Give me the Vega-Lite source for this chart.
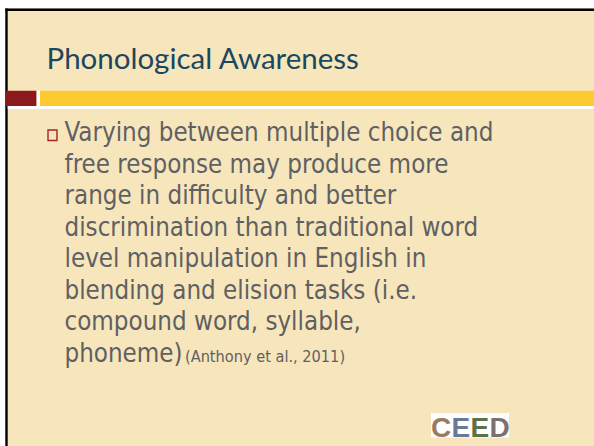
{
  "$schema": "https://vega.github.io/schema/vega-lite/v6.json",
  "width": 594,
  "height": 446,
  "autosize": {"type": "fit", "contains": "padding"},
  "padding": 0,
  "background": "#ffffff",
  "config": {"view": {"stroke": null}},
  "datasets": {
    "panels": [
      {"part": "slide", "x": 5.3, "x2": 594, "y": 8, "y2": 446}
    ],
    "borders": [
      {"part": "top", "x": 5.3, "x2": 594, "y": 8.5, "y2": 11},
      {"part": "left", "x": 5.3, "x2": 7.7, "y": 8.5, "y2": 446}
    ],
    "gaps": [
      {"part": "under bars", "x": 7.7, "x2": 594, "y": 106, "y2": 109},
      {"part": "between bars", "x": 36.4, "x2": 40, "y": 90.7, "y2": 106},
      {"part": "logo ground", "x": 431, "x2": 509, "y": 413, "y2": 437.5}
    ],
    "maroon": [{"part": "block", "x": 5.3, "x2": 36.4, "y": 90.7, "y2": 106}],
    "gold": [{"part": "bar", "x": 40, "x2": 594, "y": 90.7, "y2": 106}],
    "bullet": [{"part": "bullet", "x": 48, "x2": 57, "y": 130, "y2": 140.5}],
    "title": [{"x": 46.5, "y": 69, "text": "Phonological Awareness"}],
    "body": [
      {"x": 64.5, "y": 141, "text": "Varying between multiple choice and"},
      {"x": 64.5, "y": 172.5, "text": "free response may produce more"},
      {"x": 64.5, "y": 204, "text": "range in difficulty and better"},
      {"x": 64.5, "y": 235.5, "text": "discrimination than traditional word"},
      {"x": 64.5, "y": 267, "text": "level manipulation in English in"},
      {"x": 64.5, "y": 298.5, "text": "blending and elision tasks (i.e."},
      {"x": 64.5, "y": 330, "text": "compound word, syllable,"},
      {"x": 64.5, "y": 361.5, "text": "phoneme)"}
    ],
    "cite": [{"x": 185, "y": 362, "text": "(Anthony et al., 2011)"}],
    "logo": [
      {"x": 431, "y": 437, "letter": "C", "k": "1"},
      {"x": 451.5, "y": 437, "letter": "E", "k": "2"},
      {"x": 470.5, "y": 437, "letter": "E", "k": "3"},
      {"x": 489.5, "y": 437, "letter": "D", "k": "4"}
    ]
  },
  "layer": [
    {
      "data": {"name": "panels"},
      "mark": {"type": "rect", "color": "#F7E6BB"},
      "encoding": {
        "x": {"field": "x", "type": "quantitative", "scale": {"domain": [0, 594], "nice": false, "zero": false}, "axis": null},
        "x2": {"field": "x2"},
        "y": {"field": "y", "type": "quantitative", "scale": {"domain": [0, 446], "nice": false, "zero": false, "reverse": true}, "axis": null},
        "y2": {"field": "y2"}
      }
    },
    {
      "data": {"name": "borders"},
      "mark": {"type": "rect", "color": "#000000"},
      "encoding": {
        "x": {"field": "x", "type": "quantitative"},
        "x2": {"field": "x2"},
        "y": {"field": "y", "type": "quantitative"},
        "y2": {"field": "y2"}
      }
    },
    {
      "data": {"name": "gaps"},
      "mark": {"type": "rect", "color": "#FFFFFF"},
      "encoding": {
        "x": {"field": "x", "type": "quantitative"},
        "x2": {"field": "x2"},
        "y": {"field": "y", "type": "quantitative"},
        "y2": {"field": "y2"}
      }
    },
    {
      "data": {"name": "maroon"},
      "mark": {"type": "rect", "color": "#8B1A1C"},
      "encoding": {
        "x": {"field": "x", "type": "quantitative"},
        "x2": {"field": "x2"},
        "y": {"field": "y", "type": "quantitative"},
        "y2": {"field": "y2"}
      }
    },
    {
      "data": {"name": "gold"},
      "mark": {"type": "rect", "color": "#FDCB31"},
      "encoding": {
        "x": {"field": "x", "type": "quantitative"},
        "x2": {"field": "x2"},
        "y": {"field": "y", "type": "quantitative"},
        "y2": {"field": "y2"}
      }
    },
    {
      "data": {"name": "bullet"},
      "mark": {"type": "rect", "fill": "#F7E6BB", "stroke": "#A0262A", "strokeWidth": 1.4},
      "encoding": {
        "x": {"field": "x", "type": "quantitative"},
        "x2": {"field": "x2"},
        "y": {"field": "y", "type": "quantitative"},
        "y2": {"field": "y2"}
      }
    },
    {
      "data": {"name": "title"},
      "mark": {"type": "text", "font": "Lato", "fontSize": 29.5, "color": "#1B4760", "align": "left", "baseline": "alphabetic"},
      "encoding": {
        "x": {"field": "x", "type": "quantitative"},
        "y": {"field": "y", "type": "quantitative"},
        "text": {"field": "text"}
      }
    },
    {
      "data": {"name": "body"},
      "mark": {"type": "text", "font": "DejaVu Sans Condensed", "fontSize": 25.7, "color": "#5F6064", "align": "left", "baseline": "alphabetic"},
      "encoding": {
        "x": {"field": "x", "type": "quantitative"},
        "y": {"field": "y", "type": "quantitative"},
        "text": {"field": "text"}
      }
    },
    {
      "data": {"name": "cite"},
      "mark": {"type": "text", "font": "DejaVu Sans Condensed", "fontSize": 16.2, "color": "#5F6064", "align": "left", "baseline": "alphabetic"},
      "encoding": {
        "x": {"field": "x", "type": "quantitative"},
        "y": {"field": "y", "type": "quantitative"},
        "text": {"field": "text"}
      }
    },
    {
      "data": {"name": "logo"},
      "mark": {"type": "text", "font": "Liberation Sans", "fontWeight": "bold", "fontSize": 28, "align": "left", "baseline": "alphabetic"},
      "encoding": {
        "x": {"field": "x", "type": "quantitative"},
        "y": {"field": "y", "type": "quantitative"},
        "text": {"field": "letter"},
        "color": {"field": "k", "type": "nominal", "legend": null, "scale": {"range": ["#9C7A5E", "#6A7A96", "#5E7048", "#7A726E"]}}
      }
    }
  ]
}
